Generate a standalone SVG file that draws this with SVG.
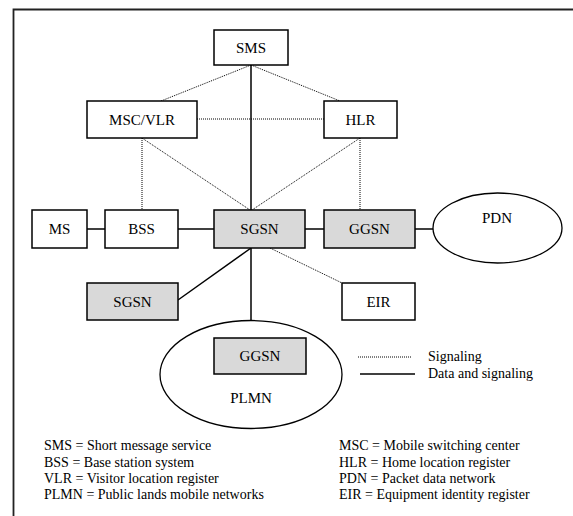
<svg xmlns="http://www.w3.org/2000/svg" width="573" height="516" viewBox="0 0 573 516">
<style>
text{font-family:'Liberation Serif','Times New Roman',Times,serif;fill:#000}
.lbl{font-size:15px;text-anchor:middle}
.leg{font-size:14px}
.box{fill:#fff;stroke:#000;stroke-width:1.5}
.gray{fill:#d9d9d9;stroke:#000;stroke-width:1.5}
.ell{fill:#fff;stroke:#000;stroke-width:1.3}
.solid{stroke:#000;stroke-width:1.5;fill:none}
.dot{stroke:#000;stroke-width:1;stroke-dasharray:1 1;fill:none}
</style>
<rect width="573" height="516" fill="#fff"/>
<path d="M13.5,520 V9.5 H580" fill="none" stroke="#222" stroke-width="1.8"/>
<g id="connectors">
<line class="solid" x1="251" y1="65" x2="251" y2="210"/>
<line class="solid" x1="251" y1="248" x2="251" y2="338"/>
<line class="solid" x1="251" y1="248" x2="178" y2="300"/>
<line class="dot" x1="251" y1="65" x2="161" y2="101"/>
<line class="dot" x1="251" y1="65" x2="340" y2="101"/>
<line class="dot" x1="197" y1="119" x2="324" y2="119"/>
<line class="dot" x1="142" y1="138" x2="142" y2="210"/>
<line class="dot" x1="142" y1="138" x2="250" y2="210"/>
<line class="dot" x1="360" y1="138" x2="252" y2="210"/>
<line class="dot" x1="360" y1="138" x2="360" y2="210"/>
<line class="dot" x1="270" y1="248" x2="342" y2="283"/>
<line class="solid" x1="87" y1="229" x2="105" y2="229"/>
<line class="solid" x1="178" y1="229" x2="214" y2="229"/>
<line class="solid" x1="305" y1="229" x2="324" y2="229"/>
<line class="solid" x1="415" y1="229" x2="433" y2="229"/>
</g>
<g id="SMS"><rect class="box" x="214" y="30" width="74" height="35"/><text class="lbl" x="251" y="53">SMS</text></g>
<g id="MSC_VLR"><rect class="box" x="87" y="101" width="110" height="37"/><text class="lbl" x="142" y="125">MSC/VLR</text></g>
<g id="HLR"><rect class="box" x="324" y="101" width="73" height="37"/><text class="lbl" x="360.5" y="125">HLR</text></g>
<g id="MS"><rect class="box" x="32" y="210" width="55" height="38"/><text class="lbl" x="59.5" y="234">MS</text></g>
<g id="BSS"><rect class="box" x="105" y="210" width="73" height="38"/><text class="lbl" x="141.5" y="234">BSS</text></g>
<g id="SGSN"><rect class="gray" x="214" y="210" width="91" height="38"/><text class="lbl" x="259.5" y="234">SGSN</text></g>
<g id="GGSN"><rect class="gray" x="324" y="210" width="91" height="38"/><text class="lbl" x="369.5" y="234">GGSN</text></g>
<g id="PDN"><ellipse class="ell" cx="497.5" cy="228" rx="64.5" ry="35"/><text class="lbl" x="497" y="223">PDN</text></g>
<g id="SGSN2"><rect class="gray" x="87" y="283" width="91" height="37"/><text class="lbl" x="132.5" y="307">SGSN</text></g>
<g id="EIR"><rect class="box" x="342" y="283" width="73" height="37"/><text class="lbl" x="378.5" y="307">EIR</text></g>
<g id="PLMN"><ellipse class="ell" cx="251" cy="374.5" rx="91" ry="54"/><text class="lbl" x="251" y="403">PLMN</text></g>
<g id="GGSN2"><rect class="gray" x="214" y="338" width="92" height="36"/><text class="lbl" x="260" y="361">GGSN</text></g>
<g id="legend">
<line class="dot" x1="358" y1="357" x2="412" y2="357"/>
<line class="solid" x1="360" y1="374" x2="415" y2="374"/>
<text class="leg" x="428" y="361">Signaling</text>
<text class="leg" x="428" y="378">Data and signaling</text>
<text class="leg" x="44" y="450">SMS = Short message service</text>
<text class="leg" x="44" y="466.5">BSS = Base station system</text>
<text class="leg" x="44" y="482.5">VLR = Visitor location register</text>
<text class="leg" x="44" y="498.5">PLMN = Public lands mobile networks</text>
<text class="leg" x="339" y="450">MSC = Mobile switching center</text>
<text class="leg" x="339" y="466.5">HLR = Home location register</text>
<text class="leg" x="339" y="482.5">PDN = Packet data network</text>
<text class="leg" x="339" y="498.5">EIR = Equipment identity register</text>
</g>
</svg>
